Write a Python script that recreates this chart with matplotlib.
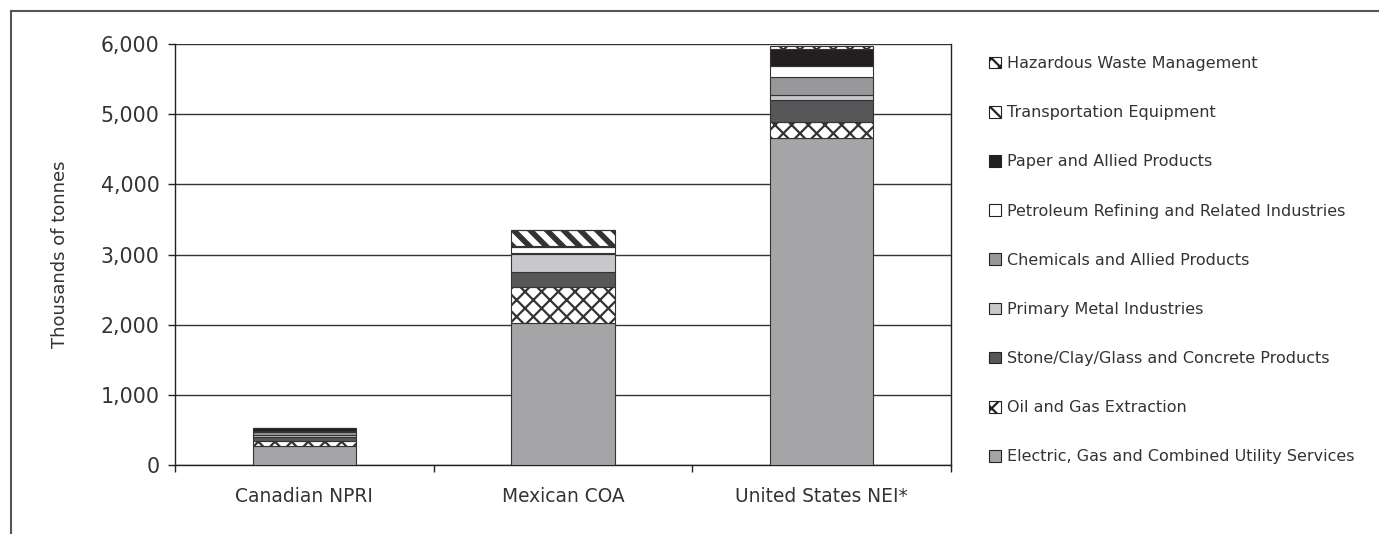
import matplotlib
matplotlib.use('Agg')
import matplotlib.pyplot as plt
from matplotlib.patches import Patch
from matplotlib.lines import Line2D
import numpy as np

# emissions by sector, thousands of tonnes
categories = ['Canadian NPRI', 'Mexican COA', 'United States NEI*']
sectors = ['Electric, Gas and Combined Utility Services',
           'Oil and Gas Extraction',
           'Stone/Clay/Glass and Concrete Products',
           'Primary Metal Industries',
           'Chemicals and Allied Products',
           'Petroleum Refining and Related Industries',
           'Paper and Allied Products',
           'Transportation Equipment',
           'Hazardous Waste Management']
electric = [275, 2019, 4664]
oil_gas = [71, 522, 224]
stone_clay = [60, 209, 309]
primary_metal = [25, 253, 71]
chemicals = [35, 18, 261]
petroleum = [15, 86, 157]
paper = [40, 14, 238]
transportation = [2, 228, 0]
hazardous = [0, 0, 47]
values = [electric, oil_gas, stone_clay, primary_metal, chemicals,
          petroleum, paper, transportation, hazardous]

colors = ['#a5a5a8', 'white', '#575759', '#c8c8ca', '#98989b',
          'white', '#231f20', 'white', 'white']
hatches = [None, 'xx', None, None, None, None, None, '\\\\', 'xx']

plt.rcParams['font.family'] = 'DejaVu Sans'
plt.rcParams['hatch.color'] = 'black'
plt.rcParams['hatch.linewidth'] = 1.6
txt = '#333333'

fig = plt.figure(figsize=(13.79, 5.34), dpi=100)
ax = fig.add_axes([0.1269, 0.1292, 0.5627, 0.7884])

x = np.arange(len(categories))
bottom = np.zeros(len(categories))
for vals, col, h, name in zip(values, colors, hatches, sectors):
    bars = ax.bar(x, vals, 0.4, bottom=bottom, color=col, hatch=h,
                  edgecolor='#333333', linewidth=0.8, label=name, zorder=3)
    if h == '\\\\':
        for b in bars:
            try:
                b.set_hatch_linewidth(4.0)
            except AttributeError:
                pass
    bottom += np.array(vals)

ax.set_xlim(-0.5, 2.5)
ax.set_ylim(0, 6000)
ax.set_yticks(range(0, 6001, 1000))
ax.set_yticklabels([f'{v:,}' for v in range(0, 6001, 1000)])
ax.set_xticks(x)
ax.set_xticklabels(categories)
ax.set_xticks([-0.5, 0.5, 1.5, 2.5], minor=True)
ax.tick_params(axis='x', which='major', length=0, pad=16, labelsize=13.4, labelcolor=txt)
ax.tick_params(axis='x', which='minor', length=5, width=1, color='#222222')
ax.tick_params(axis='y', length=5, width=1, color='#222222', pad=6,
               labelsize=14.8, labelcolor=txt)
ax.yaxis.grid(True, color='#333333', linewidth=1.0, zorder=0)
for s in ['left', 'bottom', 'right']:
    ax.spines[s].set_color('#222222')
    ax.spines[s].set_linewidth(1.0)
ax.spines['top'].set_visible(False)
ax.set_ylabel('Thousands of tonnes', fontsize=13, color=txt, labelpad=23)

# legend, top entry first
handles = [Patch(facecolor=c, edgecolor='#222222', hatch=h, linewidth=0.8)
           for c, h in zip(colors, hatches)]
leg = fig.legend(handles[::-1], sectors[::-1], loc='upper left',
                 bbox_to_anchor=(0.7125, 0.907), frameon=False, fontsize=11.5,
                 handlelength=0.75, handleheight=0.75, handletextpad=0.4,
                 labelspacing=2.14, borderaxespad=0)
for t in leg.get_texts():
    t.set_color(txt)

# outer frame (top and left edges)
fig.add_artist(Line2D([0.008, 1.0], [0.979, 0.979], color='#555555', linewidth=1.5))
fig.add_artist(Line2D([0.008, 0.008], [0.0, 0.979], color='#555555', linewidth=1.5))

fig.savefig('out.png', dpi=100)
